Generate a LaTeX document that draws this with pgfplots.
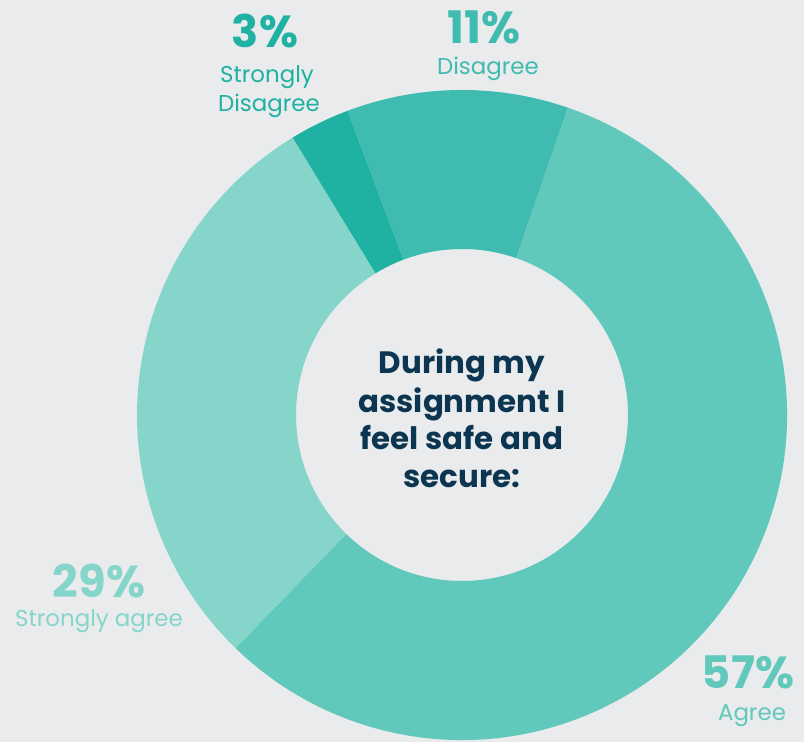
\documentclass[border=0pt]{standalone}
\usepackage{pgfplots}
\usepackage{pgfplotstable}
\pgfplotsset{compat=1.18}
\usepackage{fontspec}
\setmainfont{Poppins}
\definecolor{bgcol}{HTML}{E9EBEC}
\definecolor{cAgree}{HTML}{61C8BC}
\definecolor{cSA}{HTML}{86D5CA}
\definecolor{cSD}{HTML}{1FB1A1}
\definecolor{cD}{HTML}{40BBAF}
\definecolor{navy}{HTML}{0B3550}

% share of answers, in percent, clockwise from the top right
\pgfplotstableread{
idx value
0 57
1 29
2 3
3 11
}\datatable

\pgfplotstablegetelem{0}{value}\of\datatable \let\vA\pgfplotsretval
\pgfplotstablegetelem{1}{value}\of\datatable \let\vB\pgfplotsretval
\pgfplotstablegetelem{2}{value}\of\datatable \let\vC\pgfplotsretval
\pgfplotstablegetelem{3}{value}\of\datatable \let\vD\pgfplotsretval
\pgfmathsetmacro\aO{71}
\pgfmathsetmacro\aA{\aO-3.6*\vA}
\pgfmathsetmacro\aB{\aA-3.6*\vB}
\pgfmathsetmacro\aC{\aB-3.6*\vC}
\pgfmathsetmacro\aD{\aC-3.6*\vD}
\def\cx{462}\def\cy{327}\def\Ro{325}\def\Ri{166}

\newcommand\slice[3]{% color, start, end
  \fill[#1] (axis cs:{\cx+\Ro*cos(#2)},{\cy+\Ro*sin(#2)})
    arc[start angle=#2, end angle=#3, radius=\Ro bp]
    -- (axis cs:{\cx+\Ri*cos(#3)},{\cy+\Ri*sin(#3)})
    arc[start angle=#3, end angle=#2, radius=\Ri bp] -- cycle;}

\begin{document}
\begin{tikzpicture}
\begin{axis}[
  width=804bp, height=742bp, scale only axis,
  xmin=0, xmax=804, ymin=0, ymax=742,
  hide axis, clip=false,
]
\fill[bgcol] (axis cs:0,0) rectangle (axis cs:804,742);
\slice{cAgree}{\aO}{\aA}
\slice{cSA}{\aA}{\aB}
\slice{cSD}{\aB}{\aC}
\slice{cD}{\aC}{\aD}

\node[anchor=base, text=cSD, font=\fontsize{45}{45}\selectfont\bfseries] at (axis cs:265,{742-48}) {3\%};
\node[anchor=base, text=cSD, font=\fontsize{23}{23}\selectfont] at (axis cs:267,{742-83}) {Strongly};
\node[anchor=base, text=cSD, font=\fontsize{23}{23}\selectfont] at (axis cs:269,{742-112}) {Disagree};

\node[anchor=base, text=cD, font=\fontsize{45}{45}\selectfont\bfseries] at (axis cs:484,{742-44}) {11\%};
\node[anchor=base, text=cD, font=\fontsize{23}{23}\selectfont] at (axis cs:488,{742-75}) {Disagree};

\node[anchor=base, text=cSA, font=\fontsize{45}{45}\selectfont\bfseries] at (axis cs:99,{742-598}) {29\%};
\node[anchor=base, text=cSA, font=\fontsize{23}{23}\selectfont] at (axis cs:99,{742-627}) {Strongly agree};

\node[anchor=base, text=cAgree, font=\fontsize{45}{45}\selectfont\bfseries] at (axis cs:748,{742-689}) {57\%};
\node[anchor=base, text=cAgree, font=\fontsize{23}{23}\selectfont] at (axis cs:752,{742-720}) {Agree};

\node[anchor=base, text=navy, font=\fontsize{31}{38}\selectfont\bfseries] at (axis cs:462,{742-374}) {During my};
\node[anchor=base, text=navy, font=\fontsize{31}{38}\selectfont\bfseries] at (axis cs:462,{742-413}) {assignment I};
\node[anchor=base, text=navy, font=\fontsize{31}{38}\selectfont\bfseries] at (axis cs:462,{742-450}) {feel safe and};
\node[anchor=base, text=navy, font=\fontsize{31}{38}\selectfont\bfseries] at (axis cs:462,{742-488}) {secure:};
\end{axis}
\pgfresetboundingbox
\path[use as bounding box] (current axis.south west) rectangle (current axis.north east);
\end{tikzpicture}
\end{document}
